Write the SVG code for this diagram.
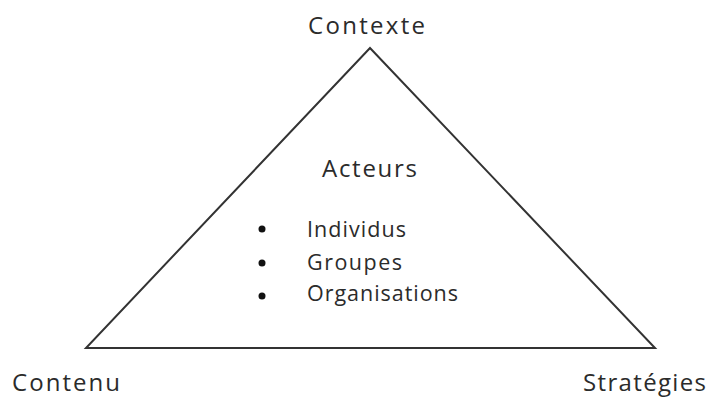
<svg xmlns="http://www.w3.org/2000/svg" width="712" height="398" viewBox="0 0 712 398">
  <style>
    .lbl { font-family: "Open Sans", "Liberation Sans", sans-serif; fill: #2b2b2b; }
    .big { font-size: 24px; }
    .item { font-size: 21.5px; }
    .edge { fill: none; stroke: #333; stroke-width: 2; stroke-linejoin: miter; }
  </style>
  <rect width="712" height="398" fill="#ffffff"/>
  <g id="connectors">
    <polygon class="edge" points="370,48 655,348 86,348"/>
  </g>
  <g id="contexte">
    <text class="lbl big" x="308" y="34" textLength="117" lengthAdjust="spacing">Contexte</text>
  </g>
  <g id="contenu">
    <text class="lbl big" x="12" y="391" textLength="108" lengthAdjust="spacing">Contenu</text>
  </g>
  <g id="strategies">
    <text class="lbl big" x="583" y="391" textLength="123" lengthAdjust="spacing">Stratégies</text>
  </g>
  <g id="acteurs">
    <text class="lbl big" x="322" y="177" textLength="95" lengthAdjust="spacing">Acteurs</text>
    <circle cx="262" cy="229" r="3.5" fill="#111"/>
    <circle cx="262" cy="263" r="3.5" fill="#111"/>
    <circle cx="262" cy="296" r="3.5" fill="#111"/>
    <text class="lbl item" x="307" y="237" textLength="99" lengthAdjust="spacing">Individus</text>
    <text class="lbl item" x="307" y="270" textLength="95" lengthAdjust="spacing">Groupes</text>
    <text class="lbl item" x="307" y="301" textLength="151" lengthAdjust="spacing">Organisations</text>
  </g>
</svg>
